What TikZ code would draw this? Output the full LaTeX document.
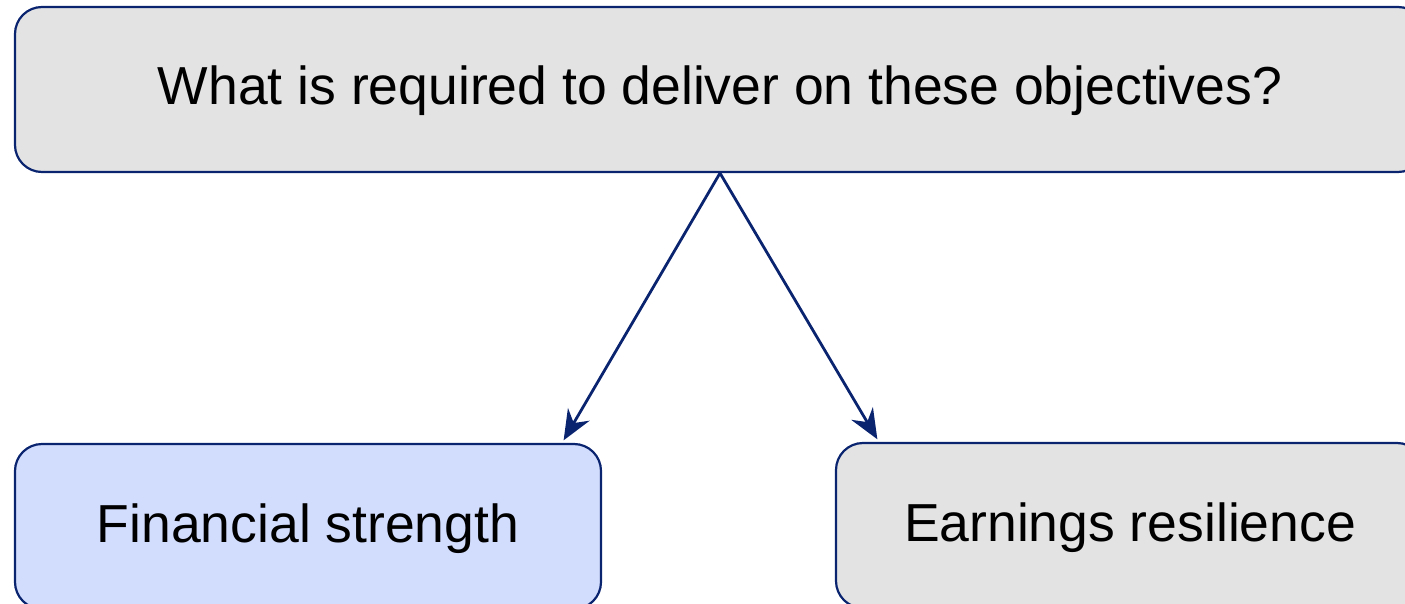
\documentclass[tikz,border=0pt]{standalone}
\usepackage{fontspec}
\setmainfont{Liberation Sans}
\usetikzlibrary{arrows.meta}
\definecolor{navy}{HTML}{0A2470}
\definecolor{boxgray}{HTML}{E3E3E3}
\definecolor{boxblue}{HTML}{D2DCFC}
\tikzset{
  card/.style={draw=navy, line width=2.2pt, rounded corners=27pt, inner sep=0pt,
    font=\fontsize{53.5}{60}\selectfont, text=black, text height=31pt, text depth=0pt},
  link/.style={draw=navy, line width=2.8pt, -{Stealth[length=30pt,width=25pt,inset=10pt]}}
}
\begin{document}
\begin{tikzpicture}[x=1pt,y=-1pt]
\useasboundingbox (0,0) rectangle (1405,604);
\clip (0,0) rectangle (1405,604);
\node[card, fill=boxgray, minimum width=1410pt, minimum height=165pt] (q) at (720,89.5) {What is required to deliver on these objectives?};
\node[card, fill=boxblue, minimum width=586pt, minimum height=165pt] (fs) at (308,526.5) {Financial strength};
\node[card, fill=boxgray, minimum width=588pt, minimum height=165pt] (er) at (1130,525.5) {Earnings resilience};
\draw[link, shorten >=3pt] (q.south) -- ([xshift=-40pt]fs.north east);
\draw[link, shorten >=3pt] (q.south) -- ([xshift=44pt]er.north west);
\end{tikzpicture}
\end{document}
